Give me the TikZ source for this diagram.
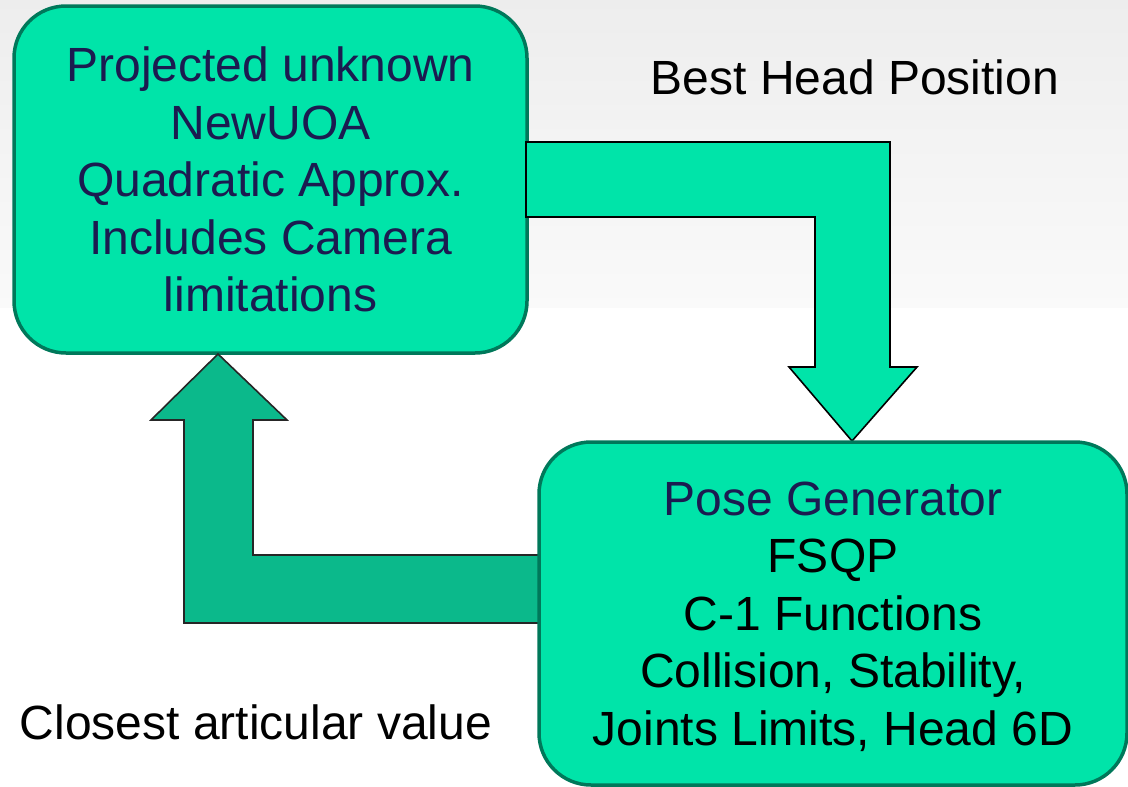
\documentclass[tikz,border=0pt]{standalone}
\usepackage{fontspec}
\setmainfont{Liberation Sans}
\definecolor{boxfill}{HTML}{00E4A9}
\definecolor{boxline}{HTML}{00785A}
\definecolor{arrowdark}{HTML}{0BB98B}
\definecolor{navy}{HTML}{1B1B50}
\begin{document}
\begin{tikzpicture}[x=1pt,y=-1pt,
  box/.style={draw=boxline, line width=3.5pt, fill=boxfill, rounded corners=52pt,
    inner sep=0pt, align=center, font=\fontsize{48}{57.5}\selectfont},
  blockarrow/.style={line width=1.6pt, line join=miter},
  lbl/.style={inner sep=0pt, font=\fontsize{48}{57.5}\selectfont}]
\useasboundingbox (0,0) rectangle (1128,787);
\shade[top color=black!7, bottom color=black!2] (0,0) rectangle (1128,307);
\node[box, minimum width=513pt, minimum height=347pt, text=navy] (b1) at (270.5,179.5)
  {Projected unknown\\NewUOA\\Quadratic Approx.\\Includes Camera\\limitations};
% block arrow: box 1 -> box 2
\draw[blockarrow, draw=black, fill=boxfill]
  (526,142) -- (890,142) -- (890,367) -- (917,367) -- (852,441) -- (789,367)
  -- (815,367) -- (815,217) -- (526,217) -- cycle;
% block arrow: box 2 -> box 1
\draw[blockarrow, draw=black!85, fill=arrowdark]
  (542,555) -- (253,555) -- (253,420) -- (287,420) -- (218,354) -- (151,420)
  -- (184,420) -- (184,623) -- (542,623) -- cycle;
\node[box, minimum width=588pt, minimum height=343pt, text depth=0pt] (b2) at (833,613.5)
  {\textcolor{navy}{Pose Generator}\\FSQP\\C-1 Functions\\Collision, Stability,\\Joints Limits, Head 6D};
\node[lbl] (best) at (855,77) {Best Head Position};
\node[lbl] (closest) at (256,722) {Closest articular value};
\end{tikzpicture}
\end{document}
